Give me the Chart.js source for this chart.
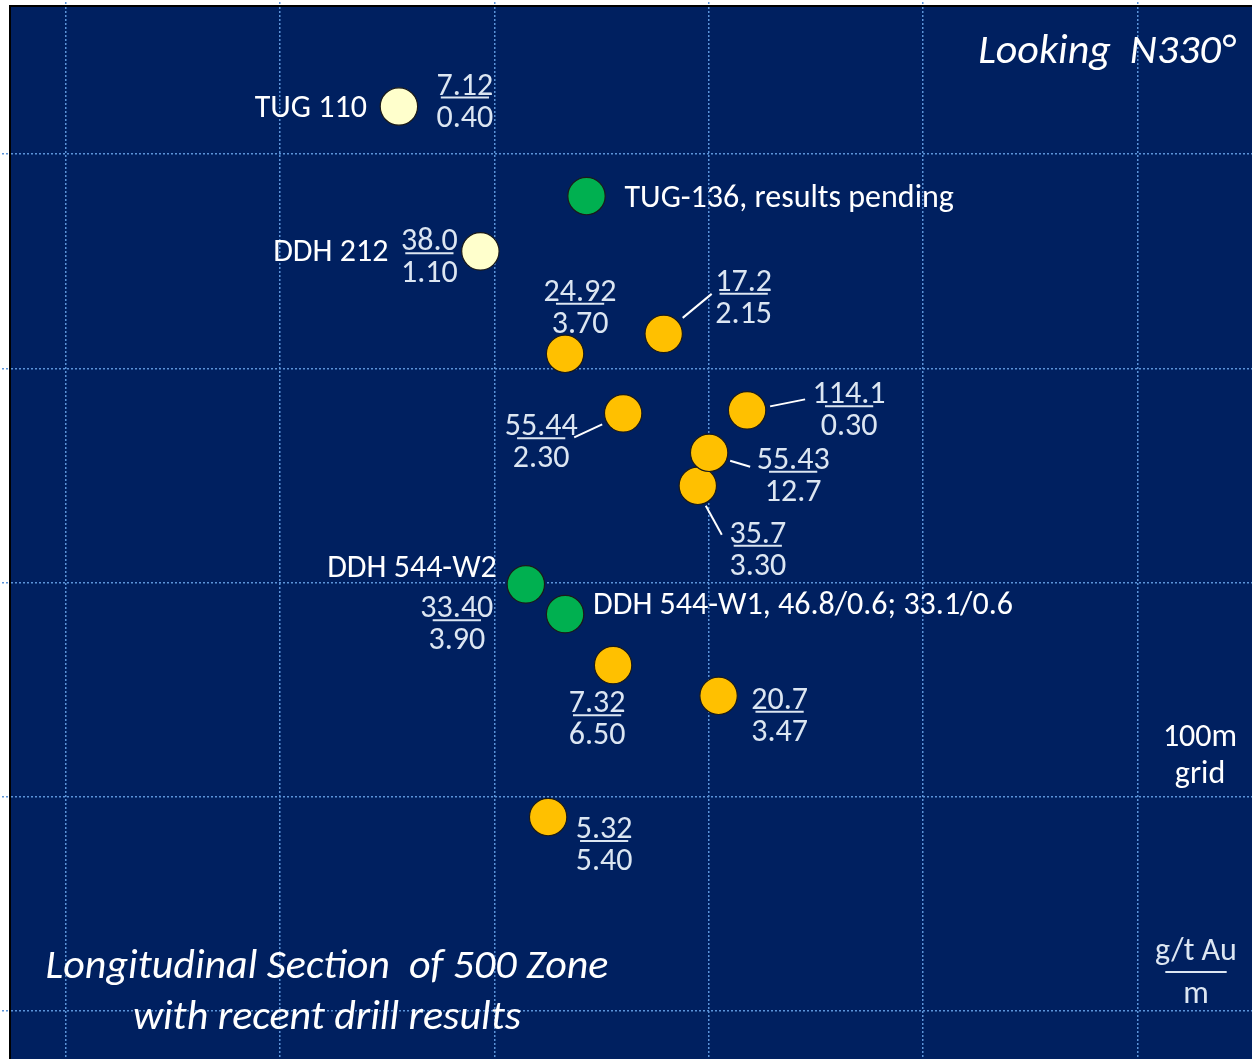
<!DOCTYPE html>
<html>
<head>
<meta charset="utf-8">
<script src="https://cdn.jsdelivr.net/npm/chart.js@4.4.1/dist/chart.umd.min.js"></script>
<style>
    html, body { margin: 0; padding: 0; background: #ffffff; overflow: hidden; }
    #wrap { width: 1252px; height: 1059px; position: relative; }
    canvas { display: block; }
</style>
</head>
<body>
<div id="wrap"><canvas id="sectionChart"></canvas></div>
<script>
// 500 Zone longitudinal section - drill hole pierce points (local grid, metres)
const holeNames = ['TUG 110', 'TUG-136, results pending', 'DDH 212', '', '', '', '', '', '',
    'DDH 544-W2', 'DDH 544-W1, 46.8/0.6; 33.1/0.6', '', '', ''];
const gradeText = ['7.12', '', '38.0', '24.92', '17.2', '55.44', '114.1', '35.7', '55.43',
    '33.40', '', '7.32', '20.7', '5.32'];   // g/t Au
const widthText = ['0.40', '', '1.10', '3.70', '2.15', '2.30', '0.30', '3.30', '12.7',
    '3.90', '', '6.50', '3.47', '5.40'];    // m
const holeStatus = ['historic', 'pending', 'historic', 'recent', 'recent', 'recent', 'recent',
    'recent', 'recent', 'pending', 'pending', 'recent', 'recent', 'recent'];
const eastings = [155.5, 243.0, 193.5, 233.0, 279.0, 260.1, 317.9, 294.9, 300.2,
    214.7, 233.0, 255.4, 304.6, 225.1];
const elevations = [22.2, -19.6, -45.4, -93.2, -83.9, -121.0, -119.6, -154.8, -139.4,
    -200.8, -214.7, -238.5, -252.8, -309.4];

// 100 m grid lines
const gridEast = [0, 100, 200, 300, 400, 500];
const gridElev = [0, -100, -200, -300, -400];

// colours
const navy = '#002060';
const gridBlue = '#5b93d8';
const numberColor = '#dce6f2';
const statusColors = { historic: '#ffffcc', pending: '#00b050', recent: '#ffc000' };

// where each label sits, in pixels from its point (name, fraction bar, leader line)
const labelLayout = [
    { name: [-32, 2, 'right'], frac: [66, -9] },
    { name: [38, 3, 'left'] },
    { name: [-92, 2, 'right'], frac: [-51, 2] },
    { frac: [15, -50] },
    { frac: [80, -40], leader: [19, -16, 48, -40] },
    { frac: [-82, 25], leader: [-21, 11, -49, 24] },
    { frac: [102, -4], leader: [23, -4, 58, -11] },
    { frac: [60, 60], leader: [8, 20, 24, 49] },
    { frac: [84, 19], leader: [21, 8, 41, 14] },
    { name: [-29, -15, 'right'], frac: [-69, 36] },
    { name: [28, -8, 'left'] },
    { frac: [-16, 50] },
    { frac: [61, 16] },
    { frac: [56, 24] }
];

const FONT = 'Carlito, Lato, sans-serif';

const points = eastings.map((e, i) => ({ x: e, y: elevations[i] }));

const backgroundPlugin = {
    id: 'navyBox',
    beforeDraw(chart) {
        const { ctx, chartArea: a } = chart;
        ctx.save();
        ctx.fillStyle = navy;
        ctx.fillRect(a.left, a.top, a.right - a.left, a.bottom - a.top);
        ctx.restore();
    }
};

// number over number with a short bar between them
function drawFraction(ctx, cx, barY, top, bottom, opts) {
    const o = Object.assign({ topGap: 3, bottomGap: 29, barScale: null }, opts);
    ctx.font = '32px ' + FONT;
    ctx.fillStyle = numberColor;
    ctx.textAlign = 'center';
    ctx.textBaseline = 'alphabetic';
    ctx.fillText(top, cx, barY - o.topGap);
    ctx.fillText(bottom, cx, barY + o.bottomGap);
    const w = o.barScale
        ? ctx.measureText(top).width * o.barScale
        : Math.min(ctx.measureText(top).width, ctx.measureText(bottom).width) * 0.85;
    ctx.strokeStyle = numberColor;
    ctx.lineWidth = 2;
    ctx.beginPath();
    ctx.moveTo(cx - w / 2, barY);
    ctx.lineTo(cx + w / 2, barY);
    ctx.stroke();
}

const labelPlugin = {
    id: 'holeLabels',
    afterDraw(chart) {
        const { ctx, chartArea: a } = chart;
        const pts = chart.getDatasetMeta(0).data;
        ctx.save();
        pts.forEach((pt, i) => {
            const lay = labelLayout[i];
            if (lay.leader) {
                const l = lay.leader;
                ctx.strokeStyle = '#ffffff';
                ctx.lineWidth = 2;
                ctx.beginPath();
                ctx.moveTo(pt.x + l[0], pt.y + l[1]);
                ctx.lineTo(pt.x + l[2], pt.y + l[3]);
                ctx.stroke();
            }
            if (holeNames[i] && lay.name) {
                ctx.font = '32px ' + FONT;
                ctx.fillStyle = '#ffffff';
                ctx.textAlign = lay.name[2];
                ctx.textBaseline = 'middle';
                ctx.fillText(holeNames[i], pt.x + lay.name[0], pt.y + lay.name[1]);
            }
            if (gradeText[i] && lay.frac) {
                drawFraction(ctx, pt.x + lay.frac[0], pt.y + lay.frac[1], gradeText[i], widthText[i]);
            }
        });

        // captions
        ctx.fillStyle = '#ffffff';
        ctx.textBaseline = 'alphabetic';
        ctx.font = 'italic 42px ' + FONT;
        ctx.textAlign = 'right';
        ctx.fillText('Looking  N330\u00b0', a.right - 17, a.top + 57);
        ctx.textAlign = 'center';
        ctx.fillText('Longitudinal Section  of 500 Zone', a.left + 317, a.top + 972);
        ctx.fillText('with recent drill results', a.left + 317, a.top + 1023);

        ctx.font = '32px ' + FONT;
        ctx.fillText('100m', a.left + 1190, a.top + 740);
        ctx.fillText('grid', a.left + 1190, a.top + 777);
        drawFraction(ctx, a.left + 1186, a.top + 966, 'g/t Au', 'm',
            { topGap: 12, bottomGap: 31, barScale: 0.75 });
        ctx.restore();
    }
};

const gridOpts = {
    color: gridBlue,
    lineWidth: 1.5,
    tickColor: gridBlue,
    tickBorderDash: [2, 2],
    tickWidth: 1.5
};

new Chart(document.getElementById('sectionChart'), {
    type: 'scatter',
    data: {
        datasets: [{
            label: 'Drill holes',
            data: points,
            pointRadius: 18.7,
            pointHoverRadius: 18.7,
            pointBackgroundColor: holeStatus.map(s => statusColors[s]),
            pointBorderColor: '#1a1a1a',
            pointBorderWidth: 1.2
        }]
    },
    options: {
        responsive: true,
        maintainAspectRatio: false,
        animation: false,
        layout: { autoPadding: false, padding: { left: 2, top: 2, right: 0, bottom: 0 } },
        plugins: {
            legend: { display: false },
            tooltip: { enabled: false }
        },
        scales: {
            x: {
                type: 'linear',
                position: 'top',
                min: -25.9,
                max: 553.4,
                z: 1,
                ticks: { display: false },
                afterBuildTicks: scale => { scale.ticks = gridEast.map(v => ({ value: v })); },
                grid: Object.assign({ tickLength: 4 }, gridOpts),
                border: { display: true, color: '#000000', width: 2, dash: [2, 2] }
            },
            y: {
                type: 'linear',
                position: 'left',
                min: -422.3,
                max: 69.1,
                z: 1,
                ticks: { display: false },
                afterBuildTicks: scale => { scale.ticks = gridElev.map(v => ({ value: v })); },
                grid: Object.assign({ tickLength: 8 }, gridOpts),
                border: { display: true, color: '#000000', width: 2, dash: [2, 2] }
            }
        }
    },
    plugins: [backgroundPlugin, labelPlugin]
});
</script>
</body>
</html>
